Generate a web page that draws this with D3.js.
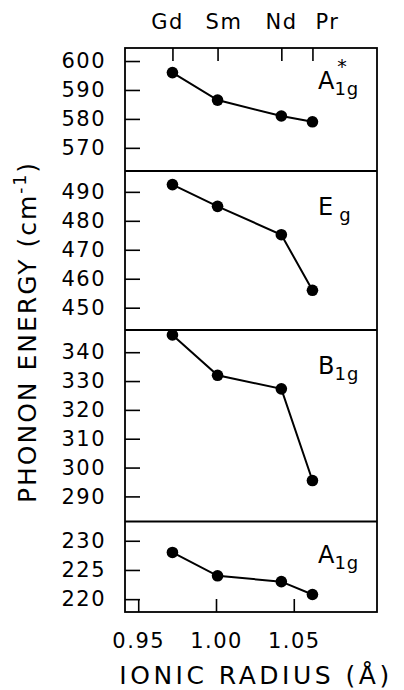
<!DOCTYPE html>
<html>
<head>
<meta charset="utf-8">
<script src="https://cdn.jsdelivr.net/npm/d3@7"></script>
<style>
  html, body { margin: 0; padding: 0; background: #fff; }
  svg { display: block; }
  text { font-family: "DejaVu Sans", sans-serif; fill: #000; }
</style>
</head>
<body>
<svg id="chart" width="404" height="690"></svg>
<script>
// Rare-earth ions and their ionic radii (Å)
const ions = ["Gd", "Sm", "Nd", "Pr"];
const radii = [0.972, 1.001, 1.042, 1.062];

// Phonon energies (cm^-1) for each Raman mode, one value per ion
const a1gStar = [596, 586.5, 581, 579];
const eg = [492.5, 485, 475.2, 456];
const b1g = [346, 332, 327.3, 295.5];
const a1g = [228, 224, 223, 220.8];

// Tick values
const xTicks = [0.95, 1.00, 1.05];
const a1gStarTicks = [570, 580, 590, 600];
const egTicks = [450, 460, 470, 480, 490];
const b1gTicks = [290, 300, 310, 320, 330, 340];
const a1gTicks = [220, 225, 230];

const svg = d3.select("#chart");

const frameL = 125, frameR = 377, frameT = 48, frameB = 612;
const x = d3.scaleLinear().domain([0.9415, 1.1035]).range([frameL, frameR]);

const panels = [
  { values: a1gStar, ticks: a1gStarTicks, domain: [562, 604.5], y0: 48, y1: 171,
    label: "A", sub: "1g", star: true, ly: 89 },
  { values: eg, ticks: egTicks, domain: [442.3, 497.2], y0: 171, y1: 330,
    label: "E", sub: "g", star: false, ly: 215 },
  { values: b1g, ticks: b1gTicks, domain: [281.3, 347.7], y0: 330, y1: 521.5,
    label: "B", sub: "1g", star: false, ly: 374 },
  { values: a1g, ticks: a1gTicks, domain: [217.8, 233.3], y0: 521.5, y1: frameB,
    label: "A", sub: "1g", star: false, ly: 563 }
];

panels.forEach(p => {
  const y = d3.scaleLinear().domain(p.domain).range([p.y1, p.y0]);
  const g = svg.append("g");

  // Inward left ticks with labels to the left of the frame
  const axis = d3.axisLeft(y).tickValues(p.ticks).tickSize(-15).tickPadding(19)
    .tickFormat(d3.format("d"));
  const ax = g.append("g").attr("transform", `translate(${frameL},0)`).call(axis);
  ax.select(".domain").remove();
  ax.selectAll(".tick line").attr("stroke", "#000").attr("stroke-width", 1.6);
  ax.selectAll(".tick text")
    .attr("font-size", 21).attr("letter-spacing", 1.5)
    .attr("font-family", "DejaVu Sans").attr("fill", "#000");

  // Connecting line and markers
  const pts = p.values.map((v, i) => [x(radii[i]), y(v)]);
  g.append("path")
    .attr("d", d3.line()(pts))
    .attr("fill", "none").attr("stroke", "#000").attr("stroke-width", 2);
  g.selectAll("circle").data(pts).join("circle")
    .attr("cx", d => d[0]).attr("cy", d => d[1]).attr("r", 5.8)
    .attr("fill", "#000");

  // Mode label with subscript
  const t = g.append("text").attr("x", 318).attr("y", p.ly).attr("font-size", 24);
  t.append("tspan").text(p.label);
  t.append("tspan").attr("font-size", 18).attr("letter-spacing", 1)
    .attr("dy", 6).attr("dx", p.label === "E" ? 6 : 0).text(p.sub);
  if (p.star) {
    g.append("text").attr("x", 342).attr("y", p.ly - 16).attr("font-size", 19)
      .attr("text-anchor", "middle").text("*");
  }

  // Panel divider
  if (p.y1 < frameB) {
    svg.append("line").attr("x1", frameL).attr("x2", frameR)
      .attr("y1", p.y1).attr("y2", p.y1)
      .attr("stroke", "#000").attr("stroke-width", 1.8);
  }
});

// Outer frame
svg.append("rect").attr("x", frameL).attr("y", frameT)
  .attr("width", frameR - frameL).attr("height", frameB - frameT)
  .attr("fill", "none").attr("stroke", "#000").attr("stroke-width", 1.8);

// Bottom axis: inward ticks, numeric labels
const bx = svg.append("g").attr("transform", `translate(0,${frameB})`)
  .call(d3.axisBottom(x).tickValues(xTicks).tickSize(-13).tickPadding(21)
    .tickFormat(d3.format(".2f")));
bx.select(".domain").remove();
bx.selectAll(".tick line").attr("stroke", "#000").attr("stroke-width", 1.6);
bx.selectAll(".tick text").attr("font-size", 21).attr("letter-spacing", 1.5)
  .attr("font-family", "DejaVu Sans").attr("fill", "#000");

// Top axis: inward ticks at each ion
const tx = svg.append("g").attr("transform", `translate(0,${frameT})`)
  .call(d3.axisTop(x).tickValues(radii).tickSize(-13).tickFormat(""));
tx.select(".domain").remove();
tx.selectAll(".tick line").attr("stroke", "#000").attr("stroke-width", 1.6);

// Ion names along the top
const ionX = [167.5, 224, 281.5, 327.5];
svg.selectAll("text.ion").data(ions).join("text")
  .attr("class", "ion")
  .attr("x", (d, i) => ionX[i]).attr("y", 29)
  .attr("text-anchor", "middle").attr("font-size", 21).attr("letter-spacing", 1.5)
  .text(d => d);

// Axis titles
svg.append("text")
  .attr("x", 256).attr("y", 684)
  .attr("text-anchor", "middle").attr("font-size", 25).attr("letter-spacing", 3.5)
  .text("IONIC RADIUS (Å)");

const yt = svg.append("text")
  .attr("transform", "translate(36,332) rotate(-90)")
  .attr("text-anchor", "middle").attr("font-size", 25).attr("letter-spacing", 2);
yt.append("tspan").text("PHONON ENERGY (cm");
yt.append("tspan").attr("font-size", 17).attr("dy", -10).text("-1");
yt.append("tspan").attr("dy", 10).text(")");
</script>
</body>
</html>
